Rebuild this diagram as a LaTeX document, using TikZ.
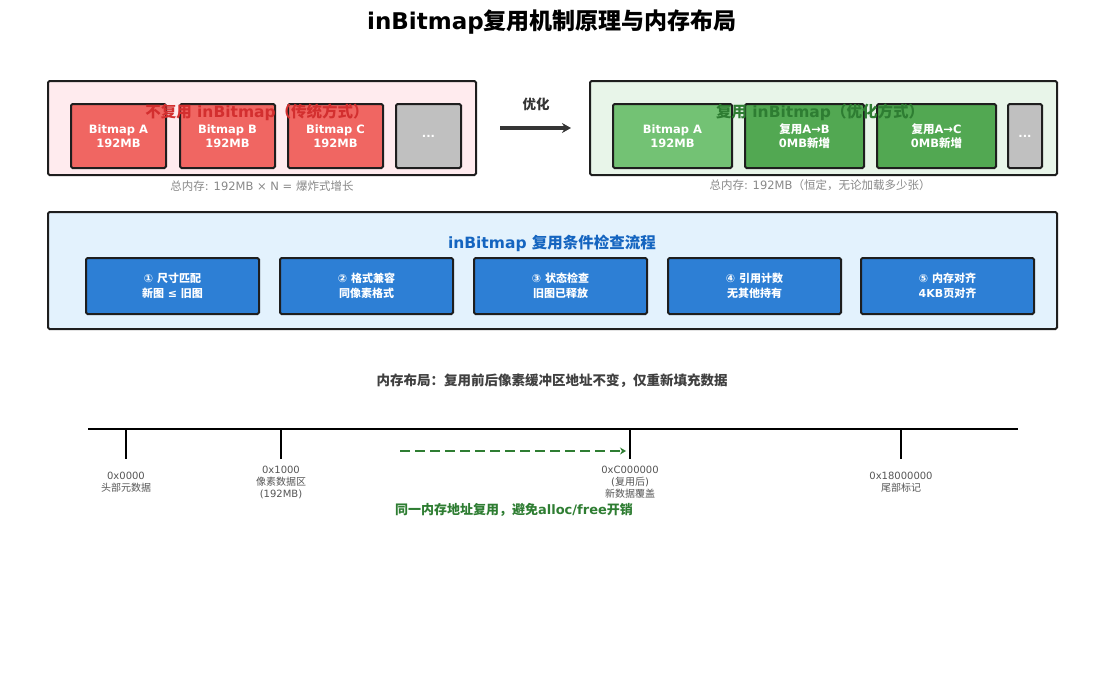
\documentclass[tikz,border=0pt]{standalone}
\usepackage{fontspec}
\setmainfont{DejaVu Sans}
\newfontfamily\cjk{Noto Sans CJK SC}
\newcommand{\zh}[1]{{\cjk #1}}
\usetikzlibrary{arrows.meta}
\definecolor{dk}{HTML}{1E1E1E}
\definecolor{redf}{HTML}{F06662}
\definecolor{redbg}{HTML}{FFEBEE}
\definecolor{redt}{HTML}{D32F2F}
\definecolor{grnbg}{HTML}{E8F5E9}
\definecolor{grn1}{HTML}{73C274}
\definecolor{grn2}{HTML}{52A852}
\definecolor{grnt}{HTML}{2E7D32}
\definecolor{blubg}{HTML}{E3F2FD}
\definecolor{blut}{HTML}{1565C0}
\definecolor{bluf}{HTML}{2D7FD5}
\definecolor{gryf}{HTML}{C0C0C0}
\definecolor{capc}{HTML}{888888}
\definecolor{lab}{HTML}{555555}
\tikzset{
 panel/.style={draw=dk,line width=2pt,rounded corners=1.5pt},
 blk/.style={draw=dk,line width=2pt,rounded corners=1.5pt,text=white,font=\bfseries\fontsize{11.5}{14}\selectfont,align=center},
 chk/.style={blk,fill=bluf,font=\bfseries\fontsize{11}{15}\selectfont},
 tk/.style={line width=1.2pt,draw=black},
 addr/.style={font=\fontsize{10}{12}\selectfont,text=lab,align=center},
}
\begin{document}
\begin{tikzpicture}[x=1pt,y=-1pt]
\useasboundingbox (0,0) rectangle (1105,685);
\node (title) at (552,22) {\bfseries\fontsize{23}{26}\selectfont inBitmap\zh{复用机制原理与内存布局}};
% left panel
\draw[panel,fill=redbg] (48,81) rectangle (476,175);
\node (la) [blk,fill=redf,minimum width=95pt,minimum height=64pt] at (118.5,136) {Bitmap A\\192MB};
\node (lb) [blk,fill=redf,minimum width=95pt,minimum height=64pt] at (227.5,136) {Bitmap B\\192MB};
\node (lc) [blk,fill=redf,minimum width=95pt,minimum height=64pt] at (335.5,136) {Bitmap C\\192MB};
\node (ld) [blk,fill=gryf,minimum width=65pt,minimum height=64pt] at (428.5,136) {...};
\node (lt) at (257,112) {\bfseries\fontsize{15.5}{18}\selectfont\color{redt}\zh{不复用} inBitmap\zh{（传统方式）}};
\node (lcap) at (262,186) {\fontsize{11.5}{13}\selectfont\color{capc}\zh{总内存}: 192MB × N = \zh{爆炸式增长}};
% arrow
\coordinate (a1) at (500,128); \coordinate (a2) at (571,128);
\draw[line width=3.5pt,draw=dk!90,-{Stealth[length=9pt,width=10pt]}] (a1) -- (a2);
\node (opt) at (536,104) {\bfseries\fontsize{13.5}{16}\selectfont\color{dk!90}\zh{优化}};
% right panel
\draw[panel,fill=grnbg] (590,81) rectangle (1057,175);
\node (ra) [blk,fill=grn1,minimum width=119pt,minimum height=64pt] at (672.5,136) {Bitmap A\\192MB};
\node (rb) [blk,fill=grn2,minimum width=119pt,minimum height=64pt] at (804.5,136) {\zh{复用}A→B\\0MB\zh{新增}};
\node (rc) [blk,fill=grn2,minimum width=119pt,minimum height=64pt] at (936.5,136) {\zh{复用}A→C\\0MB\zh{新增}};
\node (rd) [blk,fill=gryf,minimum width=34pt,minimum height=64pt] at (1025,136) {...};
\node (rt) at (820,112) {\bfseries\fontsize{15.5}{18}\selectfont\color{grnt}\zh{复用} inBitmap\zh{（优化方式）}};
\node (rcap) at (820,185) {\fontsize{11.5}{13}\selectfont\color{capc}\zh{总内存}: 192MB\zh{（恒定，无论加载多少张）}};
% middle panel
\draw[panel,fill=blubg] (48,212) rectangle (1057,329);
\node (mt) at (552,243) {\bfseries\fontsize{15.5}{18}\selectfont\color{blut}inBitmap \zh{复用条件检查流程}};
\node (s1) [chk,minimum width=173pt,minimum height=56pt] at (172.5,286) {① \zh{尺寸匹配}\\\zh{新图} ≤ \zh{旧图}};
\node (s2) [chk,minimum width=173pt,minimum height=56pt] at (366.5,286) {② \zh{格式兼容}\\\zh{同像素格式}};
\node (s3) [chk,minimum width=173pt,minimum height=56pt] at (560.5,286) {③ \zh{状态检查}\\\zh{旧图已释放}};
\node (s4) [chk,minimum width=173pt,minimum height=56pt] at (754.5,286) {④ \zh{引用计数}\\\zh{无其他持有}};
\node (s5) [chk,minimum width=173pt,minimum height=56pt] at (947.5,286) {⑤ \zh{内存对齐}\\4KB\zh{页对齐}};
% memory layout
\node (ml) at (552,381) {\bfseries\fontsize{13.5}{16}\selectfont\color{dk!85}\zh{内存布局：复用前后像素缓冲区地址不变，仅重新填充数据}};
\coordinate (l0) at (88,429); \coordinate (l1) at (1018,429);
\draw[line width=2.5pt] (l0) -- (l1);
\foreach \x/\n in {126/t0,281/t1,630/t2,901/t3}{
  \coordinate (\n a) at (\x,429); \coordinate (\n b) at (\x,459);
  \draw[tk] (\n a) -- (\n b);}
\node (ad0) [addr] at (126,482) {0x0000\\\zh{头部元数据}};
\node (ad1) [addr] at (281,482) {0x1000\\\zh{像素数据区}\\(192MB)};
\node (ad2) [addr] at (630,482) {0xC000000\\(\zh{复用后})\\\zh{新数据覆盖}};
\node (ad3) [addr] at (901,482) {0x18000000\\\zh{尾部标记}};
\coordinate (d0) at (400,451); \coordinate (d1) at (626,451);
\draw[grnt,line width=2.2pt,dash pattern=on 10pt off 5pt,-{Stealth[length=6pt,width=7pt]}] (d0) -- (d1);
\node (gt) at (514,510) {\bfseries\fontsize{13}{15}\selectfont\color{grnt}\zh{同一内存地址复用，避免}alloc/free\zh{开销}};
\end{tikzpicture}
\end{document}
